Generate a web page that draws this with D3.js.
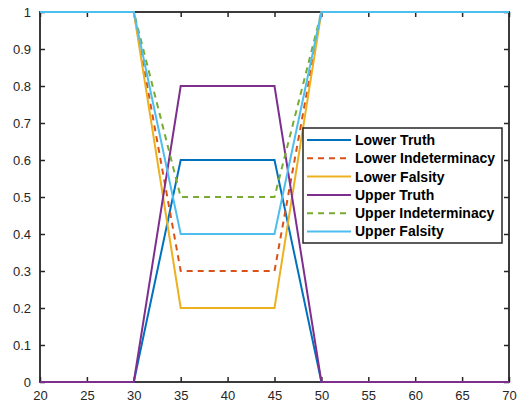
<!DOCTYPE html>
<html>
<head>
<meta charset="utf-8">
<script src="https://cdn.jsdelivr.net/npm/d3@7"></script>
<style>
  body { margin: 0; background: #fff; }
  svg text { font-family: Helvetica, Arial, "Liberation Sans", sans-serif; }
</style>
</head>
<body>
<svg id="chart"></svg>
<script>
// x breakpoints shared by all series
const xValues = [20, 30, 35, 45, 50, 70]

const seriesNames = ['Lower Truth', 'Lower Indeterminacy', 'Lower Falsity',
  'Upper Truth', 'Upper Indeterminacy', 'Upper Falsity']

const lowerTruth = [0, 0, 0.6, 0.6, 0, 0]
const lowerIndeterminacy = [1, 1, 0.3, 0.3, 1, 1]
const lowerFalsity = [1, 1, 0.2, 0.2, 1, 1]
const upperTruth = [0, 0, 0.8, 0.8, 0, 0]
const upperIndeterminacy = [1, 1, 0.5, 0.5, 1, 1]
const upperFalsity = [1, 1, 0.4, 0.4, 1, 1]

const xTicks = [20, 25, 30, 35, 40, 45, 50, 55, 60, 65, 70]
const yTicks = [0, 0.1, 0.2, 0.3, 0.4, 0.5, 0.6, 0.7, 0.8, 0.9, 1]

const colors = ['#0072BD', '#D95319', '#EDB120', '#7E2F8E', '#77AC30', '#4DBEEE']
const dashed = [false, true, false, false, true, false]

const allValues = [lowerTruth, lowerIndeterminacy, lowerFalsity, upperTruth, upperIndeterminacy, upperFalsity]

const width = 518, height = 406
const margin = {top: 12, right: 9, bottom: 24, left: 40}
const innerW = width - margin.left - margin.right
const innerH = height - margin.top - margin.bottom

const svg = d3.select('#chart').attr('width', width).attr('height', height)
const g = svg.append('g').attr('transform', `translate(${margin.left}, ${margin.top})`)

const xScale = d3.scaleLinear().domain([20, 70]).range([0, innerW])
const yScale = d3.scaleLinear().domain([0, 1]).range([innerH, 0])

const axisColor = '#262626'

// axes with inward ticks (MATLAB box style)
const xAxis = d3.axisBottom(xScale).tickValues(xTicks).tickSize(-5).tickPadding(9).tickFormat(d3.format('d'))
const yAxis = d3.axisLeft(yScale).tickValues(yTicks).tickSize(-5).tickPadding(9).tickFormat(d => d === 0 || d === 1 ? d : d3.format('.1f')(d))
const xTop = d3.axisTop(xScale).tickValues(xTicks).tickSize(-5).tickFormat('')
const yRight = d3.axisRight(yScale).tickValues(yTicks).tickSize(-5).tickFormat('')

function styleAxis(sel) {
  sel.selectAll('.domain').remove()
  sel.selectAll('line').attr('stroke', axisColor).attr('stroke-width', 1.5)
  sel.selectAll('text').attr('fill', axisColor).style('font-size', '13px')
}

g.append('g').attr('transform', `translate(0, ${innerH})`).call(xAxis).call(styleAxis)
g.append('g').call(yAxis).call(styleAxis)
g.append('g').call(xTop).call(styleAxis)
g.append('g').attr('transform', `translate(${innerW}, 0)`).call(yRight).call(styleAxis)

// box drawn under the lines
g.append('rect')
  .attr('width', innerW).attr('height', innerH)
  .attr('fill', 'none').attr('stroke', axisColor).attr('stroke-width', 1.8)

// lines
const line = d3.line().x((d, i) => xScale(xValues[i])).y(d => yScale(d))

allValues.forEach((vals, k) => {
  g.append('path')
    .datum(vals)
    .attr('fill', 'none')
    .attr('stroke', colors[k])
    .attr('stroke-width', 2)
    .attr('stroke-dasharray', dashed[k] ? '6,5' : null)
    .attr('d', line)
})

// legend
const legend = svg.append('g').attr('transform', 'translate(303, 128)')
legend.append('rect')
  .attr('width', 199).attr('height', 115)
  .attr('fill', '#fff').attr('stroke', axisColor).attr('stroke-width', 1.5)

seriesNames.forEach((name, k) => {
  const y = 12 + k * 18.3
  legend.append('line')
    .attr('x1', 4).attr('x2', 48).attr('y1', y).attr('y2', y)
    .attr('stroke', colors[k]).attr('stroke-width', 2)
    .attr('stroke-dasharray', dashed[k] ? '6,5' : null)
  legend.append('text')
    .attr('x', 52).attr('y', y).attr('dy', '0.35em')
    .style('font-size', '14px').style('font-weight', 'bold')
    .attr('fill', '#000')
    .text(name)
})
</script>
</body>
</html>
